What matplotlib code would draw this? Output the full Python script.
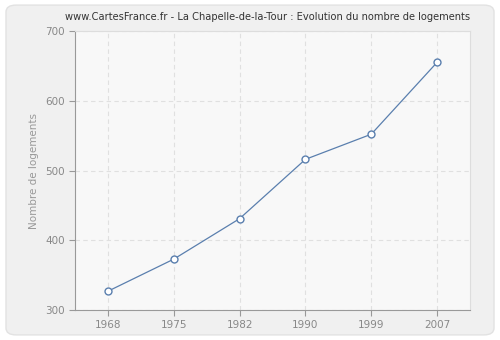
import matplotlib.pyplot as plt
from matplotlib.patches import FancyBboxPatch

years = ['1968', '1975', '1982', '1990', '1999', '2007']
logements = [327, 373, 431, 516, 552, 655]

plt.rcParams['hatch.linewidth'] = 0.5
plt.rcParams['hatch.color'] = '#ececec'

fig = plt.figure(figsize=(5, 3.4), dpi=100)
fig.patch.set_facecolor('white')
# rounded light-grey card behind everything
card = FancyBboxPatch((0.012, 0.015), 0.976, 0.97,
                      boxstyle='round,pad=0,rounding_size=0.02',
                      transform=fig.transFigure, facecolor='#f0f0f0',
                      edgecolor='#e2e2e2', linewidth=1, zorder=-10)
fig.add_artist(card)

ax = fig.add_axes([0.15, 0.088, 0.79, 0.821])
ax.set_facecolor('#f8f8f8')
ax.patch.set_hatch('////')

x = list(range(len(years)))
ax.plot(x, logements, color='#5a7fae', linewidth=0.9, marker='o',
        markersize=5, markerfacecolor='white', markeredgecolor='#5a7fae',
        markeredgewidth=1, zorder=3)

ax.set_xlim(-0.5, 5.5)
ax.set_ylim(300, 700)
ax.set_xticks(x)
ax.set_xticklabels(years)
ax.set_yticks([300, 400, 500, 600, 700])
ax.grid(True, color='#e0e0e0', linestyle=(0, (4, 3)), linewidth=0.8)
ax.set_axisbelow(True)

for s in ['top', 'right']:
    ax.spines[s].set_color('#dddddd')
for s in ['left', 'bottom']:
    ax.spines[s].set_color('#999999')
ax.tick_params(colors='#999999', labelcolor='#888888', labelsize=7.5, length=4)
ax.set_ylabel('Nombre de logements', color='#999999', fontsize=7.5)
fig.text(0.535, 0.95, 'www.CartesFrance.fr - La Chapelle-de-la-Tour : Evolution du nombre de logements',
         ha='center', va='center', fontsize=7.1, color='#333333')

fig.savefig('out.png', dpi=100, facecolor=fig.get_facecolor())
